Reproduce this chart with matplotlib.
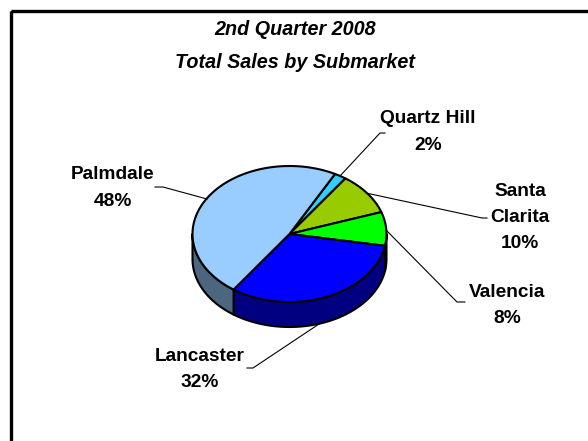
import numpy as np
import matplotlib
matplotlib.use("Agg")
import matplotlib.pyplot as plt
from matplotlib.patches import Polygon, Rectangle

# ---- data ----
submarkets = ["Quartz Hill", "Santa\nClarita", "Valencia", "Lancaster", "Palmdale"]
shares = [2, 10, 8, 32, 48]
title_lines = ["2nd Quarter 2008", "Total Sales by Submarket"]

# ---- styles / layout ----
top_colors = ["#33CCFF", "#99CC00", "#00FF00", "#0000FF", "#99CCFF"]
side_colors = ["#1A6680", "#4D6600", "#008000", "#000080", "#4D6680"]
label_pos = [(428, 132), (520, 217.5), (507, 305.5), (200, 369.5), (113, 188)]
leaders = [
    [(340, 176), (380, 133), (385, 133)],
    [(366, 193), (482, 218), (487, 218)],
    [(386, 230), (457, 302), (465, 302)],
    [(322, 322), (253, 368), (247, 368)],
    [(207, 199), (163, 187), (155, 187)],
]

fig = plt.figure(figsize=(5.88, 4.41), dpi=100)
ax = fig.add_axes([0, 0, 1, 1])
ax.set_xlim(0, 588)
ax.set_ylim(441, 0)
ax.axis("off")

# frame
ax.add_patch(Rectangle((11, 10.5), 620, 480, fill=False, lw=2.4, ec="black"))

cx, cy, rx, ry, depth = 289.5, 234.0, 97.0, 68.0, 25.0
start = 62.0
total = float(sum(shares))
bounds = start - np.cumsum([0] + shares) / total * 360.0


def arc(a_hi, a_lo, n=80, dy=0.0):
    a = np.radians(np.linspace(a_hi, a_lo, n))
    return np.column_stack([cx + rx * np.cos(a), cy - ry * np.sin(a) + dy])


# side walls (front half: angles between -180 and 0)
for i in range(len(shares)):
    hi, lo = bounds[i], bounds[i + 1]
    vhi, vlo = min(hi, 0.0), max(lo, -180.0)
    if vhi > vlo:
        top = arc(vhi, vlo)
        bot = arc(vlo, vhi, dy=depth)
        ax.add_patch(Polygon(np.vstack([top, bot]), closed=True,
                             fc=side_colors[i], ec="black", lw=1.5, joinstyle="round"))

# top faces
for i in range(len(shares)):
    hi, lo = bounds[i], bounds[i + 1]
    pts = np.vstack([[cx, cy], arc(hi, lo)])
    ax.add_patch(Polygon(pts, closed=True, fc=top_colors[i], ec="black",
                         lw=1.5, joinstyle="round"))

# labels
font = dict(family=["Liberation Sans", "DejaVu Sans"], weight="bold", size=13.8)
for name, s, (x, y), line in zip(submarkets, shares, label_pos, leaders):
    ax.text(x, y, f"{name}\n{s}%", ha="center", va="center",
            linespacing=1.72, **font)
    xs, ys = zip(*line)
    ax.plot(xs, ys, color="black", lw=0.8)

ax.text(295, 46, "\n".join(title_lines), ha="center", va="center",
        linespacing=1.9, style="italic", family=["Liberation Sans", "DejaVu Sans"],
        weight="bold", size=14.2)

fig.savefig("out.png", dpi=100)
